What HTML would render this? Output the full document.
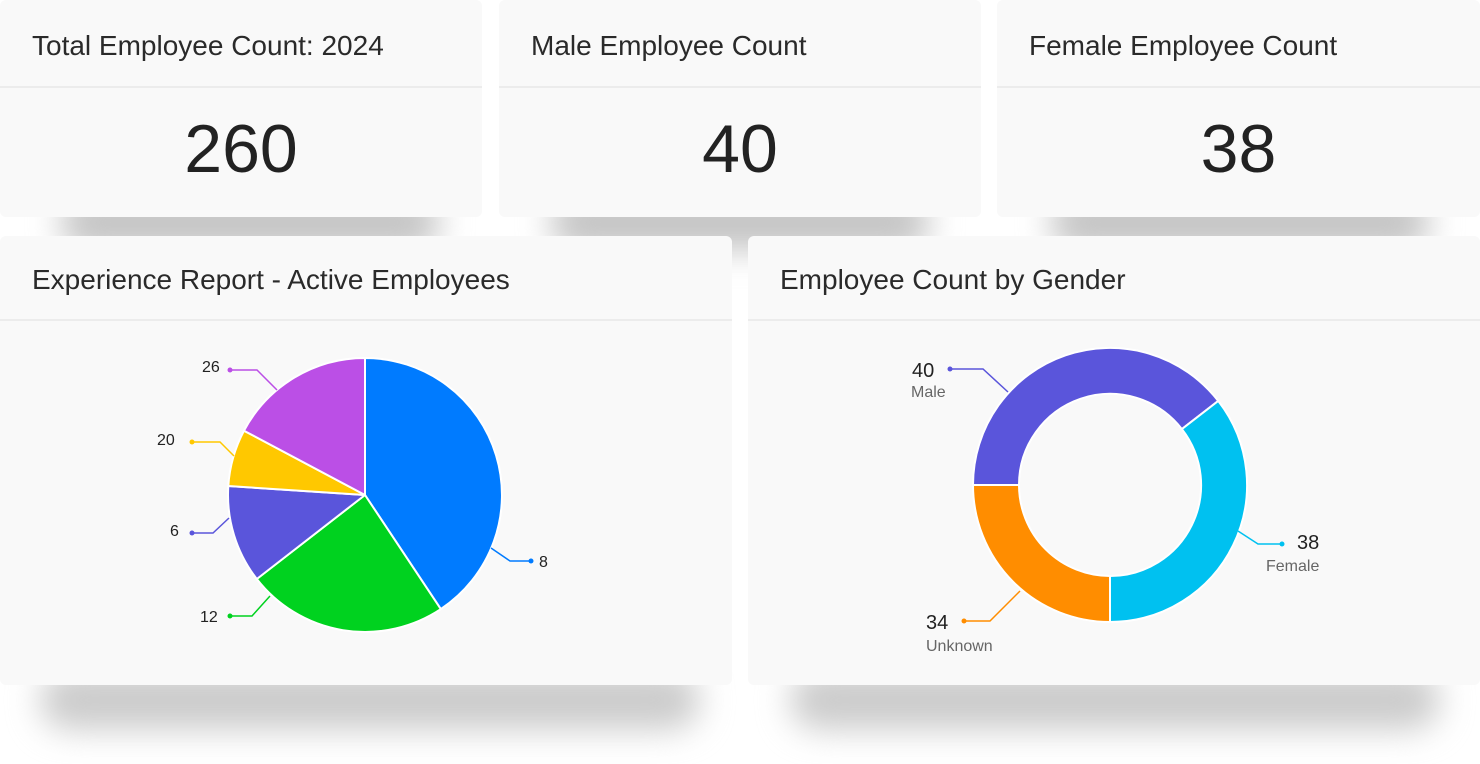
<!DOCTYPE html>
<html><head><style>
body{margin:0;width:1480px;height:764px;background:#fff;position:relative;overflow:hidden;font-family:"Liberation Sans",sans-serif;color:#222}
.sh{position:absolute;background:#c4c4c4;filter:blur(16px);border-radius:30px}
.card{position:absolute;background:#f9f9f9;border-radius:6px}
.hd{position:absolute;left:0;right:0;top:0;border-bottom:2px solid #ececec;font-size:28px;color:#2a2a2a}
.hd span{position:absolute;left:32px}
.num{position:absolute;left:0;right:0;text-align:center;font-size:68px;color:#222}
</style></head><body>
<div class="sh" style="left:60px;top:195px;width:380px;height:55px"></div>
<div class="sh" style="left:550px;top:195px;width:380px;height:55px"></div>
<div class="sh" style="left:1050px;top:195px;width:380px;height:55px"></div>
<div class="sh" style="left:40px;top:670px;width:660px;height:60px;background:#ccc"></div>
<div class="sh" style="left:790px;top:670px;width:650px;height:60px;background:#ccc"></div>

<div class="card" style="left:0;top:0;width:482px;height:217px"><div class="hd" style="height:86px"><span style="top:30px">Total Employee Count: 2024</span></div><div class="num" style="top:110px">260</div></div>
<div class="card" style="left:499px;top:0;width:482px;height:217px"><div class="hd" style="height:86px"><span style="top:30px">Male Employee Count</span></div><div class="num" style="top:110px">40</div></div>
<div class="card" style="left:997px;top:0;width:483px;height:217px"><div class="hd" style="height:86px"><span style="top:30px">Female Employee Count</span></div><div class="num" style="top:110px">38</div></div>

<div class="card" style="left:0;top:236px;width:732px;height:449px"><div class="hd" style="height:83px"><span style="top:28px">Experience Report - Active Employees</span></div></div>
<div class="card" style="left:748px;top:236px;width:732px;height:449px"><div class="hd" style="height:83px"><span style="top:28px">Employee Count by Gender</span></div></div>

<svg width="1480" height="764" style="position:absolute;left:0;top:0" font-family="Liberation Sans, sans-serif">
<g stroke="#fff" stroke-width="2" stroke-linejoin="round">
<path d="M365,495 L365,358 A137,137 0 0 1 440.8,609.1 Z" fill="#007bff"/>
<path d="M365,495 L440.8,609.1 A137,137 0 0 1 256.8,579 Z" fill="#00d21f"/>
<path d="M365,495 L256.8,579 A137,137 0 0 1 228.3,486 Z" fill="#5a55db"/>
<path d="M365,495 L228.3,486 A137,137 0 0 1 244,430.7 Z" fill="#ffc800"/>
<path d="M365,495 L244,430.7 A137,137 0 0 1 365,358 Z" fill="#bb4fe6"/>
</g>
<g fill="none" stroke-width="1.5">
<polyline points="491,548 510,561 531,561" stroke="#007bff"/>
<polyline points="270,596 252,616 230,616" stroke="#00d21f"/>
<polyline points="229,518 213,533 192,533" stroke="#5a55db"/>
<polyline points="234,456 220,442 192,442" stroke="#ffc800"/>
<polyline points="277,390 257,370 230,370" stroke="#bb4fe6"/>
</g>
<g>
<circle cx="531" cy="561" r="2.5" fill="#007bff"/><circle cx="230" cy="616" r="2.5" fill="#00d21f"/>
<circle cx="192" cy="533" r="2.5" fill="#5a55db"/><circle cx="192" cy="442" r="2.5" fill="#ffc800"/>
<circle cx="230" cy="370" r="2.5" fill="#bb4fe6"/>
</g>
<g font-size="16" fill="#222">
<text x="539" y="567">8</text><text x="200" y="622">12</text><text x="170" y="536">6</text>
<text x="157" y="445">20</text><text x="202" y="372">26</text>
</g>
<g stroke="#fff" stroke-width="2" stroke-linejoin="round">
<path d="M973,485 A137,137 0 0 1 1218.2,400.9 L1181.9,429.1 A91,91 0 0 0 1019,485 Z" fill="#5a55db"/>
<path d="M1218.2,400.9 A137,137 0 0 1 1110,622 L1110,576 A91,91 0 0 0 1181.9,429.1 Z" fill="#00c1f0"/>
<path d="M1110,622 A137,137 0 0 1 973,485 L1019,485 A91,91 0 0 0 1110,576 Z" fill="#ff8d00"/>
</g>
<g fill="none" stroke-width="1.5">
<polyline points="1008,392 983,369 950,369" stroke="#5a55db"/>
<polyline points="1238,531 1258,544 1282,544" stroke="#00c1f0"/>
<polyline points="1020,591 990,621 964,621" stroke="#ff8d00"/>
</g>
<circle cx="950" cy="369" r="2.5" fill="#5a55db"/><circle cx="1282" cy="544" r="2.5" fill="#00c1f0"/><circle cx="964" cy="621" r="2.5" fill="#ff8d00"/>
<g font-size="20" fill="#222"><text x="912" y="377">40</text><text x="1297" y="549">38</text><text x="926" y="629">34</text></g>
<g font-size="16" fill="#666"><text x="911" y="397">Male</text><text x="1266" y="571">Female</text><text x="926" y="651">Unknown</text></g>
</svg>
</body></html>
